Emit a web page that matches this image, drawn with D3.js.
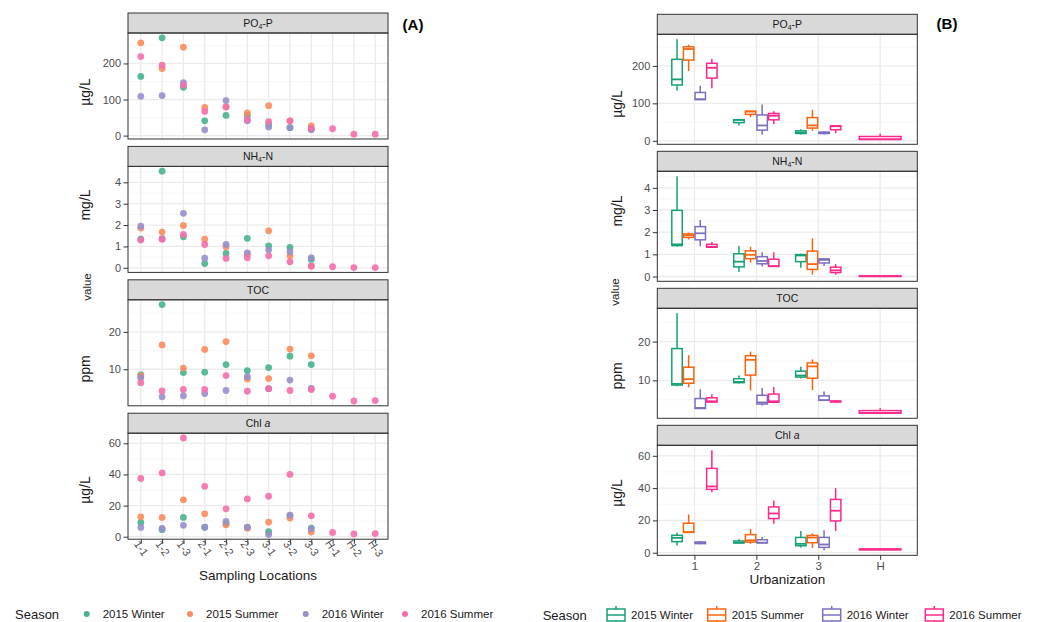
<!DOCTYPE html>
<html>
<head>
<meta charset="utf-8">
<script src="https://cdn.jsdelivr.net/npm/d3@7"></script>
<style>
  body { margin: 0; background: #fff; }
  svg { font-family: "Liberation Sans", Arial, sans-serif; }
</style>
</head>
<body>
<svg id="chart" width="1038" height="622"></svg>
<script>
// ---- data ----
const sites = ["1-1", "1-2", "1-3", "2-1", "2-2", "2-3", "3-1", "3-2", "3-3", "H-1", "H-2", "H-3"]
const levels = ["1", "2", "3", "H"]
const seasons = ["2015 Winter", "2015 Summer", "2016 Winter", "2016 Summer"]

// PO4-P (µg/L), one value per site
const po4_w15 = [164, 271, 134, 41, 56, 56, 31, 22, 17, null, null, null]
const po4_s15 = [257, 186, 245, 78, 80, 63, 83, 41, 27, null, null, null]
const po4_w16 = [109, 111, 147, 16, 97, 41, 24, 22, 17, null, null, null]
const po4_s16 = [219, 195, 140, 67, 79, 45, 39, 41, 20, 19, 4, 4]

// NH4-N (mg/L)
const nh4_w15 = [1.34, 4.52, 1.45, 0.20, 0.67, 1.38, 1.03, 0.95, 0.39, null, null, null]
const nh4_s15 = [1.86, 1.67, 1.98, 1.34, 0.98, 0.63, 1.73, 0.56, 0.08, null, null, null]
const nh4_w16 = [1.95, 1.36, 2.55, 0.45, 1.09, 0.70, 0.84, 0.75, 0.47, null, null, null]
const nh4_s16 = [1.30, 1.34, 1.56, 1.09, 0.44, 0.47, 0.56, 0.28, 0.08, 0.05, 0.01, 0.01]

// TOC (ppm)
const toc_w15 = [8.5, 27.3, 9.1, 9.2, 11.25, 9.6, 10.45, 13.5, 11.25, null, null, null]
const toc_s15 = [8.2, 16.5, 10.3, 15.3, 17.4, 7.4, 7.5, 15.4, 13.6, null, null, null]
const toc_w16 = [7.7, 2.6, 2.9, 3.5, 4.3, 8.0, 4.8, 7.1, 4.9, null, null, null]
const toc_s16 = [6.4, 4.2, 4.6, 4.6, 8.3, 4.1, 4.8, 4.3, 4.55, 2.8, 1.5, 1.6]

// Chl a (µg/L)
const chl_w15 = [9.2, 4.5, 12.4, 6.2, 8.3, 6.0, 3.2, 13.4, 5.5, null, null, null]
const chl_s15 = [12.8, 12.4, 23.7, 14.7, 7.7, 5.5, 9.4, 12.0, 3.0, null, null, null]
const chl_w16 = [6.0, 5.3, 7.3, 6.0, 9.8, 6.2, 1.5, 13.9, 5.1, null, null, null]
const chl_s16 = [37.4, 41.0, 63.4, 32.4, 17.9, 24.3, 26.0, 40.0, 13.4, 2.7, 1.8, 2.0]

const po4_ticks = [0, 100, 200]
const nh4_ticks = [0, 1, 2, 3, 4]
const toc_ticks = [10, 20]
const chl_ticks = [0, 20, 40, 60]

const colorsA = ["#47b38d", "#fb8b5d", "#988fcb", "#f56fac"]
const colorsB = ["#15a07a", "#fa640f", "#7b70c0", "#fc2a8c"]

const variables = [
  {strip: [["PO", 0], ["4", 1], ["-P", -1]], unit: "µg/L", ticks: po4_ticks, series: [po4_w15, po4_s15, po4_w16, po4_s16]},
  {strip: [["NH", 0], ["4", 1], ["-N", -1]], unit: "mg/L", ticks: nh4_ticks, series: [nh4_w15, nh4_s15, nh4_w16, nh4_s16]},
  {strip: [["TOC", 0]], unit: "ppm", ticks: toc_ticks, series: [toc_w15, toc_s15, toc_w16, toc_s16]},
  {strip: [["Chl ", 0], ["a", 2]], unit: "µg/L", ticks: chl_ticks, series: [chl_w15, chl_s15, chl_w16, chl_s16]}
]

// ---- layout ----
const svg = d3.select("#chart")

const facetA = {x0: 128, x1: 388, top: 13, step: 133.4, stripH: 20, panelH: 106, unitX: 85, unitY: [92, 205, 369, 490], valueX: 87, valueY: 287}
const facetB = {x0: 657.3, x1: 917.3, top: 14.3, step: 137, stripH: 20, panelH: 110, unitX: 617, unitY: [104, 211, 376, 493], valueX: 615, valueY: 292}

const xA = d3.scalePoint().domain(sites).range([facetA.x0, facetA.x1]).padding(0.6)
const xB = d3.scalePoint().domain(levels).range([facetB.x0, facetB.x1]).padding(0.6)

function makeY(v, f, i) {
  const vals = v.series.flat().filter(d => d != null)
  const [lo, hi] = d3.extent(vals)
  const pad = (hi - lo) * 0.05
  const top = f.top + i * f.step + f.stripH
  return d3.scaleLinear().domain([lo - pad, hi + pad]).range([top + f.panelH, top])
}

function minorTicks(ticks, y) {
  const step = ticks[1] - ticks[0]
  const [d0, d1] = y.domain()
  return d3.range(ticks[0] - step / 2, ticks[ticks.length - 1] + step, step).filter(t => t > d0 && t < d1)
}

function drawFacet(f, i, v, x, cats) {
  const y = makeY(v, f, i)
  const top = f.top + i * f.step
  const pTop = top + f.stripH
  const g = svg.append("g")

  g.append("rect").attr("x", f.x0).attr("y", pTop).attr("width", f.x1 - f.x0).attr("height", f.panelH).attr("fill", "#fff")

  // grid
  g.selectAll(".minor").data(minorTicks(v.ticks, y)).join("line")
    .attr("x1", f.x0).attr("x2", f.x1).attr("y1", d => y(d)).attr("y2", d => y(d))
    .attr("stroke", "#f3f3f3").attr("stroke-width", 0.7)
  g.selectAll(".major").data(v.ticks).join("line")
    .attr("x1", f.x0).attr("x2", f.x1).attr("y1", d => y(d)).attr("y2", d => y(d))
    .attr("stroke", "#ebebeb").attr("stroke-width", 1.3)
  g.selectAll(".vgrid").data(cats).join("line")
    .attr("x1", d => x(d)).attr("x2", d => x(d)).attr("y1", pTop).attr("y2", pTop + f.panelH)
    .attr("stroke", "#ebebeb").attr("stroke-width", 1.3)

  // y axis
  const ax = g.append("g").attr("transform", `translate(${f.x0},0)`)
    .call(d3.axisLeft(y).tickValues(v.ticks).tickFormat(d3.format("~g")).tickSize(4.5).tickPadding(2.5))
  ax.select(".domain").remove()
  ax.selectAll("line").attr("stroke", "#333").attr("stroke-width", 1)
  ax.selectAll("text").attr("fill", "#4d4d4d").attr("font-size", 11).attr("font-family", null)

  // strip
  g.append("rect").attr("x", f.x0).attr("y", top).attr("width", f.x1 - f.x0).attr("height", f.stripH)
    .attr("fill", "#d9d9d9").attr("stroke", "#333").attr("stroke-width", 1)
  const st = g.append("text").attr("x", (f.x0 + f.x1) / 2).attr("y", top + f.stripH / 2 + 3.8)
    .attr("text-anchor", "middle").attr("font-size", 10.5).attr("fill", "#1a1a1a")
  v.strip.forEach(([t, k]) => {
    const ts = st.append("tspan").text(t)
    if (k === 1) ts.attr("font-size", 7).attr("dy", 2)
    if (k === -1) ts.attr("dy", -2)
    if (k === 2) ts.attr("font-style", "italic")
  })

  // unit label
  svg.append("text").attr("transform", `translate(${f.unitX},${f.unitY[i]}) rotate(-90)`)
    .attr("text-anchor", "middle").attr("dy", "0.35em").attr("font-size", 14).attr("fill", "#1a1a1a")
    .text(v.unit)

  return {g, y, pTop}
}

// ---- panel A: points ----
variables.forEach((v, i) => {
  const {g, y, pTop} = drawFacet(facetA, i, v, xA, sites)
  v.series.forEach((s, k) => {
    const pts = s.map((val, j) => ({site: sites[j], val})).filter(d => d.val != null)
    g.append("g").selectAll("circle").data(pts).join("circle")
      .attr("cx", d => xA(d.site)).attr("cy", d => y(d.val)).attr("r", 3.4)
      .attr("fill", colorsA[k]).attr("fill-opacity", 0.9)
  })
  g.append("rect").attr("x", facetA.x0).attr("y", pTop).attr("width", facetA.x1 - facetA.x0).attr("height", facetA.panelH)
    .attr("fill", "none").attr("stroke", "#333").attr("stroke-width", 1)
})

// ---- panel B: boxplots grouped by urbanization ----
const boxWidth = 0.75, dodgePad = 0.1

variables.forEach((v, i) => {
  const {g, y, pTop} = drawFacet(facetB, i, v, xB, levels)
  levels.forEach(lv => {
    const groups = v.series.map((s, k) => ({
      k,
      vals: s.filter((val, j) => sites[j][0] === lv && val != null).sort(d3.ascending)
    })).filter(d => d.vals.length)
    const n = groups.length
    const slot = boxWidth * xB.step() / n
    groups.forEach((grp, idx) => {
      const q1 = d3.quantile(grp.vals, 0.25), med = d3.quantile(grp.vals, 0.5), q3 = d3.quantile(grp.vals, 0.75)
      const iqr = q3 - q1
      const lo = d3.min(grp.vals.filter(d => d >= q1 - 1.5 * iqr))
      const hi = d3.max(grp.vals.filter(d => d <= q3 + 1.5 * iqr))
      const cx = xB(lv) + (idx - (n - 1) / 2) * slot
      const w = slot * (1 - dodgePad)
      const c = colorsB[grp.k]
      const bg = g.append("g").attr("stroke", c).attr("stroke-width", 1.5)
      bg.append("line").attr("x1", cx).attr("x2", cx).attr("y1", y(q3)).attr("y2", y(hi))
      bg.append("line").attr("x1", cx).attr("x2", cx).attr("y1", y(q1)).attr("y2", y(lo))
      bg.append("rect").attr("x", cx - w / 2).attr("width", w).attr("y", y(q3)).attr("height", Math.max(0, y(q1) - y(q3)))
        .attr("fill", "#fff")
      bg.append("line").attr("x1", cx - w / 2).attr("x2", cx + w / 2).attr("y1", y(med)).attr("y2", y(med)).attr("stroke-width", 1.8)
    })
  })
  g.append("rect").attr("x", facetB.x0).attr("y", pTop).attr("width", facetB.x1 - facetB.x0).attr("height", facetB.panelH)
    .attr("fill", "none").attr("stroke", "#333").attr("stroke-width", 1)
})

// "value" titles
;[facetA, facetB].forEach(f => {
  svg.append("text").attr("transform", `translate(${f.valueX},${f.valueY}) rotate(-90)`)
    .attr("text-anchor", "middle").attr("dy", "0.35em").attr("font-size", 11.5).attr("fill", "#1a1a1a").text("value")
})

// ---- x axes ----
const bottomA = facetA.top + 3 * facetA.step + facetA.stripH + facetA.panelH
const axA = svg.append("g").attr("transform", `translate(0,${bottomA})`).call(d3.axisBottom(xA).tickSize(4.5))
axA.select(".domain").remove()
axA.selectAll("line").attr("stroke", "#333")
axA.selectAll("text").attr("y", 0).attr("dy", "0.35em").attr("text-anchor", "middle")
  .attr("transform", "translate(0,9) rotate(55)").attr("fill", "#4d4d4d").attr("font-size", 11).attr("font-family", null)

const bottomB = facetB.top + 3 * facetB.step + facetB.stripH + facetB.panelH
const axB = svg.append("g").attr("transform", `translate(0,${bottomB})`).call(d3.axisBottom(xB).tickSize(4.5).tickPadding(2.5))
axB.select(".domain").remove()
axB.selectAll("line").attr("stroke", "#333")
axB.selectAll("text").attr("fill", "#4d4d4d").attr("font-size", 11.5).attr("font-family", null)

svg.append("text").attr("x", (facetA.x0 + facetA.x1) / 2).attr("y", 580).attr("text-anchor", "middle")
  .attr("font-size", 13.5).attr("fill", "#1a1a1a").text("Sampling Locations")
svg.append("text").attr("x", (facetB.x0 + facetB.x1) / 2).attr("y", 584).attr("text-anchor", "middle")
  .attr("font-size", 13.5).attr("fill", "#1a1a1a").text("Urbanization")

// panel tags
svg.append("text").attr("x", 413).attr("y", 30).attr("text-anchor", "middle").attr("font-size", 15).attr("font-weight", "bold").text("(A)")
svg.append("text").attr("x", 947).attr("y", 29).attr("text-anchor", "middle").attr("font-size", 15).attr("font-weight", "bold").text("(B)")

// ---- legends ----
const legY = 614
const legA = svg.append("g")
legA.append("text").attr("x", 15).attr("y", legY).attr("dy", "0.35em").attr("font-size", 13).attr("fill", "#1a1a1a").text("Season")
const legAKeys = [86.7, 190, 305.7, 405]
seasons.forEach((s, k) => {
  legA.append("circle").attr("cx", legAKeys[k]).attr("cy", legY).attr("r", 3).attr("fill", colorsA[k])
  legA.append("text").attr("x", legAKeys[k] + 16).attr("y", legY).attr("dy", "0.35em").attr("font-size", 11.5)
    .attr("fill", "#1a1a1a").text(s)
})

const legB = svg.append("g")
legB.append("text").attr("x", 542.7).attr("y", legY + 1).attr("dy", "0.35em").attr("font-size", 13).attr("fill", "#1a1a1a").text("Season")
const legBKeys = [616, 716.7, 831.7, 934.3]
seasons.forEach((s, k) => {
  const cx = legBKeys[k], cy = legY + 1
  const kg = legB.append("g").attr("stroke", colorsB[k]).attr("stroke-width", 1.5).attr("fill", "#fff")
  kg.append("line").attr("x1", cx).attr("x2", cx).attr("y1", cy - 9).attr("y2", cy + 9)
  kg.append("rect").attr("x", cx - 9).attr("y", cy - 6).attr("width", 18).attr("height", 12)
  kg.append("line").attr("x1", cx - 9).attr("x2", cx + 9).attr("y1", cy).attr("y2", cy)
  legB.append("text").attr("x", cx + 15).attr("y", cy).attr("dy", "0.35em").attr("font-size", 11.5)
    .attr("fill", "#1a1a1a").text(s)
})
</script>
</body>
</html>
